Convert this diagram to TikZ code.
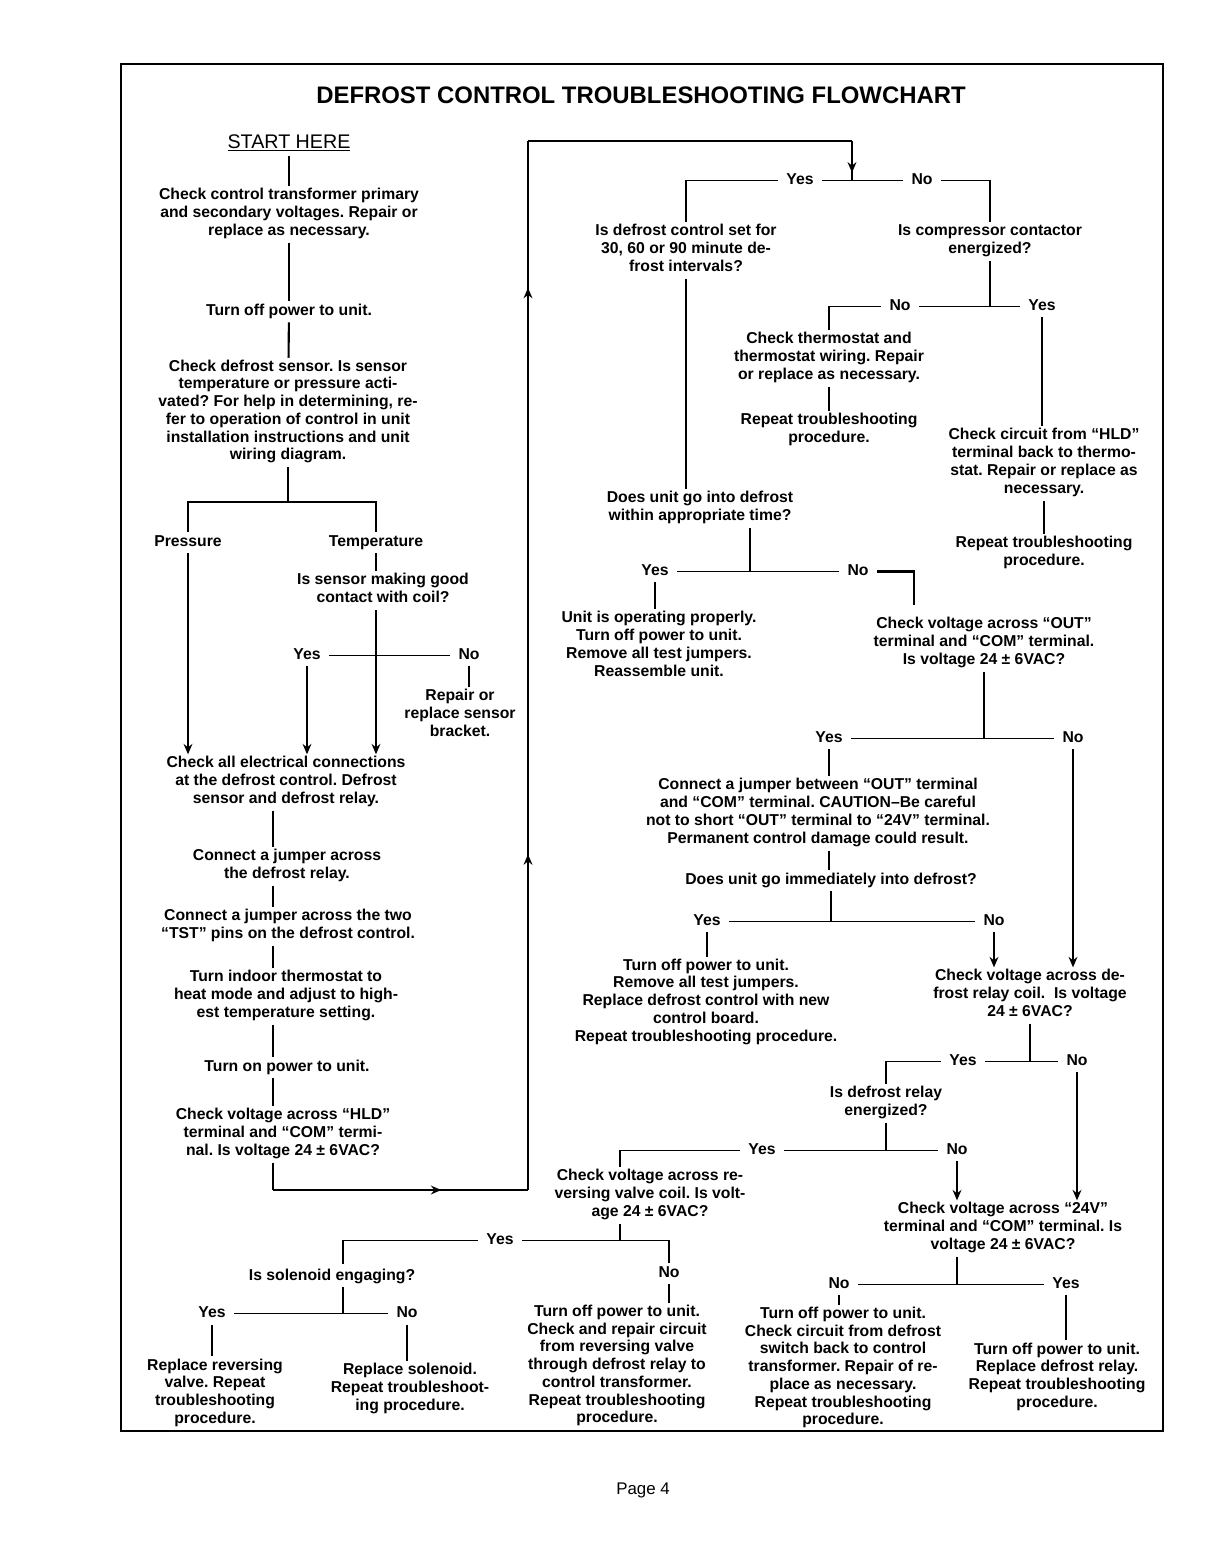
\documentclass[tikz,border=0pt]{standalone}
\usepackage{fontspec}
\setmainfont{Liberation Sans}
\usetikzlibrary{arrows.meta,decorations.markings}

\newcommand{\flowfont}{\fontsize{11.2}{12.6}\selectfont\bfseries}
\frenchspacing

\begin{document}
\begin{tikzpicture}[x=0.025cm, y=-0.025cm,
  txt/.style={align=center, font=\flowfont, inner sep=0pt, outer xsep=6pt, outer ysep=1.5pt, yshift=-2.5pt,
    execute at begin node=\strut, execute at end node=\strut},
  ln/.style={line width=1.5pt},
  hl/.style={line width=1.2pt},
  arr/.style={ln, ->},
  >={Stealth[length=2.6mm, width=2.2mm]},
  midarr/.style={postaction={decorate}, decoration={markings, mark=at position #1 with {\arrow{>}}}}]
  \useasboundingbox (0,0) rectangle (1216,1544);
  \draw[line width=1.3pt] (121,64) rectangle (1163,1431);
  \node[font=\fontsize{17}{20}\selectfont\bfseries, inner sep=0pt] (title) at (641,95) {DEFROST CONTROL TROUBLESHOOTING FLOWCHART};
  % left column
  \coordinate (lc) at (273,0);
  \node[font=\fontsize{14}{16}\selectfont, inner sep=0pt, outer sep=3pt] (start) at (289,143) {\underline{START HERE}};
  \node[txt] (ctrl) at (289,211) {Check control transformer primary\\and secondary voltages. Repair or\\replace as necessary.};
  \node[txt] (off) at (289,308) {Turn off power to unit.};
  \node[txt] (sens) at (288,409) {Check defrost sensor. Is sensor\\temperature or pressure acti-\\vated? For help in determining, re-\\fer to operation of control in unit\\installation instructions and unit\\wiring diagram.};
  \coordinate (sp) at (288,502);
  \node[txt] (pres) at (188,539) {Pressure};
  \node[txt] (temp) at (376,539) {Temperature};
  \node[txt] (good) at (383,587) {Is sensor making good\\contact with coil?};
  \node[txt] (ty) at (307,652) {Yes};
  \node[txt] (tn) at (469,652) {No};
  \node[txt] (brk) at (460,712) {Repair or\\replace sensor\\bracket.};
  \node[txt] (elec) at (286,779) {Check all electrical connections\\at the defrost control. Defrost\\sensor and defrost relay.};
  \node[txt] (jrel) at (287,863) {Connect a jumper across\\the defrost relay.};
  \node[txt] (tst) at (288,923) {Connect a jumper across the two\\“TST” pins on the defrost control.};
  \node[txt] (heat) at (286,993) {Turn indoor thermostat to\\heat mode and adjust to high-\\est temperature setting.};
  \node[txt] (pon) at (287,1064) {Turn on power to unit.};
  \node[txt] (hld) at (283,1131) {Check voltage across “HLD”\\terminal and “COM” termi-\\nal. Is voltage 24 ± 6VAC?};
  \draw[ln] (start) -- (ctrl);
  \draw[ln] (ctrl) -- (off);
  \draw[ln] (off) -- (sens);
  \draw[ln] (sens) -- (sp);
  \draw[ln] (pres) |- (sp) -| (temp);
  \draw[ln] (temp) -- (temp |- good.north);
  \draw[arr] (temp |- good.south) -- (temp |- elec.north);
  \draw[hl] (ty) -- (tn);
  \draw[arr] (ty) -- (ty |- elec.north);
  \draw[ln] (tn) -- (tn |- brk.north);
  \draw[arr] (pres) -- (pres |- elec.north);
  \draw[ln] (elec.south -| lc) -- (jrel.north -| lc);
  \draw[ln] (jrel.south -| lc) -- (tst.north -| lc);
  \draw[ln] (tst.south -| lc) -- (heat.north -| lc);
  \draw[ln] (heat.south -| lc) -- (pon.north -| lc);
  \draw[ln] (pon.south -| lc) -- (hld.north -| lc);
  % right half, upper part
  \node[txt] (iyes) at (800,177) {Yes};
  \node[txt] (ino) at (922,177) {No};
  \node[txt] (intv) at (686,247) {Is defrost control set for\\30, 60 or 90 minute de-\\frost intervals?};
  \node[txt] (comp) at (990,238) {Is compressor contactor\\energized?};
  \node[txt] (cno) at (900,303) {No};
  \node[txt] (cyes) at (1042,303) {Yes};
  \node[txt] (tstat) at (829,355) {Check thermostat and\\thermostat wiring. Repair\\or replace as necessary.};
  \node[txt] (rep1) at (829,427) {Repeat troubleshooting\\procedure.};
  \node[txt] (hldc) at (1044,460) {Check circuit from “HLD”\\terminal back to thermo-\\stat. Repair or replace as\\necessary.};
  \node[txt] (rep2) at (1044,550) {Repeat troubleshooting\\procedure.};
  \node[txt] (tm) at (700,505) {Does unit go into defrost\\within appropriate time?};
  \node[txt] (dyes) at (655,568) {Yes};
  \node[txt] (dno) at (858,568) {No};
  \coordinate (j2) at (750,0 |- dyes);
  \coordinate (j3) at (914,605);
  \node[txt] (ok) at (659,643) {Unit is operating properly.\\Turn off power to unit.\\Remove all test jumpers.\\Reassemble unit.};
  \node[txt] (vout) at (984,640) {Check voltage across “OUT”\\terminal and “COM” terminal.\\Is voltage 24 ± 6VAC?};
  % return path to the right half
  \coordinate (b1) at (273,1190);
  \coordinate (b2) at (528,1190);
  \coordinate (b3) at (528,141);
  \coordinate (b4) at (852,141);
  \coordinate (j1) at (b4 |- iyes);
  \draw[ln] (hld.south -| lc) -- (b1);
  \draw[hl, midarr=0.66] (b1) -- (b2);
  \draw[ln, postaction={decorate}, decoration={markings, mark=at position 0.32 with {\arrow{>}}, mark=at position 0.86 with {\arrow{>}}}] (b2) -- (b3);
  \draw[hl] (b3) -- (b4);
  \draw[ln, midarr=0.8] (b4) -- (j1);
  \draw[hl] (intv) |- (iyes);
  \draw[hl] (iyes) -- (ino);
  \draw[hl] (ino) -| (comp);
  \draw[ln] (intv) -- (intv |- tm.north);
  \draw[ln] (comp) -- (comp |- cno);
  \draw[hl] (tstat) |- (cno);
  \draw[hl] (cno) -- (cyes);
  \draw[ln] (tstat) -- (rep1);
  \draw[ln] (cyes) -- (cyes |- hldc.north);
  \draw[ln] (hldc) -- (rep2);
  \draw[ln] (tm.south -| j2) -- (j2);
  \draw[hl] (dyes) -- (dno);
  \draw[ln] (dno) -| (j3);
  \draw[ln] (dyes) -- (dyes |- ok.north);
  % right half, middle part
  \node[txt] (oyes) at (829,735) {Yes};
  \node[txt] (ono) at (1073,735) {No};
  \node[txt] (jmp) at (818,810) {Connect a jumper between “OUT” terminal\\and “COM” terminal. CAUTION--Be careful\\not to short “OUT” terminal to “24V” terminal.\\Permanent control damage could result.};
  \node[txt] (imm) at (831,877) {Does unit go immediately into defrost?};
  \node[txt] (myes) at (707,918) {Yes};
  \node[txt] (mno) at (994,918) {No};
  \node[txt] (newb) at (706,999) {Turn off power to unit.\\Remove all test jumpers.\\Replace defrost control with new\\control board.\\Repeat troubleshooting procedure.};
  \node[txt] (vrel) at (1030,992) {Check voltage across de-\\frost relay coil.\ \ Is voltage\\24 ± 6VAC?};
  \node[txt] (ryes) at (963,1058) {Yes};
  \node[txt] (rno) at (1077,1058) {No};
  \node[txt] (ener) at (886,1100) {Is defrost relay\\energized?};
  \node[txt] (eyes) at (762,1147) {Yes};
  \node[txt] (eno) at (957,1147) {No};
  \coordinate (rvt) at (620,1167);
  \node[txt] (vrv) at (650,1192) {Check voltage across re-\\versing valve coil. Is volt-\\age 24 ± 6VAC?};
  \node[txt] (v24) at (1003,1225) {Check voltage across “24V”\\terminal and “COM” terminal. Is\\voltage 24 ± 6VAC?};
  \draw[ln] (vout) -- (vout |- oyes);
  \draw[hl] (oyes) -- (ono);
  \draw[ln] (oyes) -- (oyes |- jmp.north);
  \draw[ln] (oyes |- jmp.south) -- (oyes |- imm.north);
  \draw[ln] (imm) -- (imm |- myes);
  \draw[hl] (myes) -- (mno);
  \draw[ln] (myes) -- (myes |- newb.north);
  \draw[arr] (mno) -- (mno |- vrel.north);
  \draw[arr] (ono) -- (ono |- vrel.north);
  \draw[ln] (vrel) -- (vrel |- ryes);
  \draw[hl] (ener) |- (ryes);
  \draw[hl] (ryes) -- (rno);
  \draw[arr] (rno) -- (rno |- v24.north);
  \draw[ln] (ener) -- (ener |- eyes);
  \draw[hl] (rvt) |- (eyes);
  \draw[hl] (eyes) -- (eno);
  \draw[arr] (eno) -- (eno |- v24.north);
  % bottom row
  \node[txt] (vyes) at (500,1237) {Yes};
  \node[txt] (vno) at (669,1270) {No};
  \coordinate (solt) at (343,1264);
  \node[txt] (sol) at (332,1273) {Is solenoid engaging?};
  \node[txt] (syes) at (212,1310) {Yes};
  \node[txt] (sno) at (407,1310) {No};
  \node[txt] (rrv) at (215,1390) {Replace reversing\\valve. Repeat\\troubleshooting\\procedure.};
  \node[txt] (rsol) at (410,1386) {Replace solenoid.\\Repeat troubleshoot-\\ing procedure.};
  \node[txt] (circ) at (617,1363) {Turn off power to unit.\\Check and repair circuit\\from reversing valve\\through defrost relay to\\control transformer.\\Repeat troubleshooting\\procedure.};
  \node[txt] (wno) at (839,1281) {No};
  \node[txt] (wyes) at (1066,1281) {Yes};
  \node[txt] (sw) at (843,1365) {Turn off power to unit.\\Check circuit from defrost\\switch back to control\\transformer. Repair of re-\\place as necessary.\\Repeat troubleshooting\\procedure.};
  \node[txt] (rdr) at (1057,1374) {Turn off power to unit.\\Replace defrost relay.\\Repeat troubleshooting\\procedure.};
  \draw[ln] (rvt |- vrv.south) -- (rvt |- vyes);
  \draw[hl] (solt) |- (vyes);
  \draw[hl] (vyes) -| (vno);
  \draw[ln] (vno) -- (vno |- circ.north);
  \draw[ln] (solt |- sol.south) -- (solt |- syes);
  \draw[hl] (syes) -- (sno);
  \draw[ln] (syes) -- (syes |- rrv.north);
  \draw[ln] (sno) -- (sno |- rsol.north);
  \draw[ln] (v24.south -| eno) -- (eno |- wno);
  \draw[hl] (wno) -- (wyes);
  \draw[ln] (wno) -- (wno |- sw.north);
  \draw[ln] (wyes) -- (wyes |- rdr.north);
  \node[font=\fontsize{12}{14}\selectfont] (page) at (643,1490) {Page 4};
\end{tikzpicture}
\end{document}
